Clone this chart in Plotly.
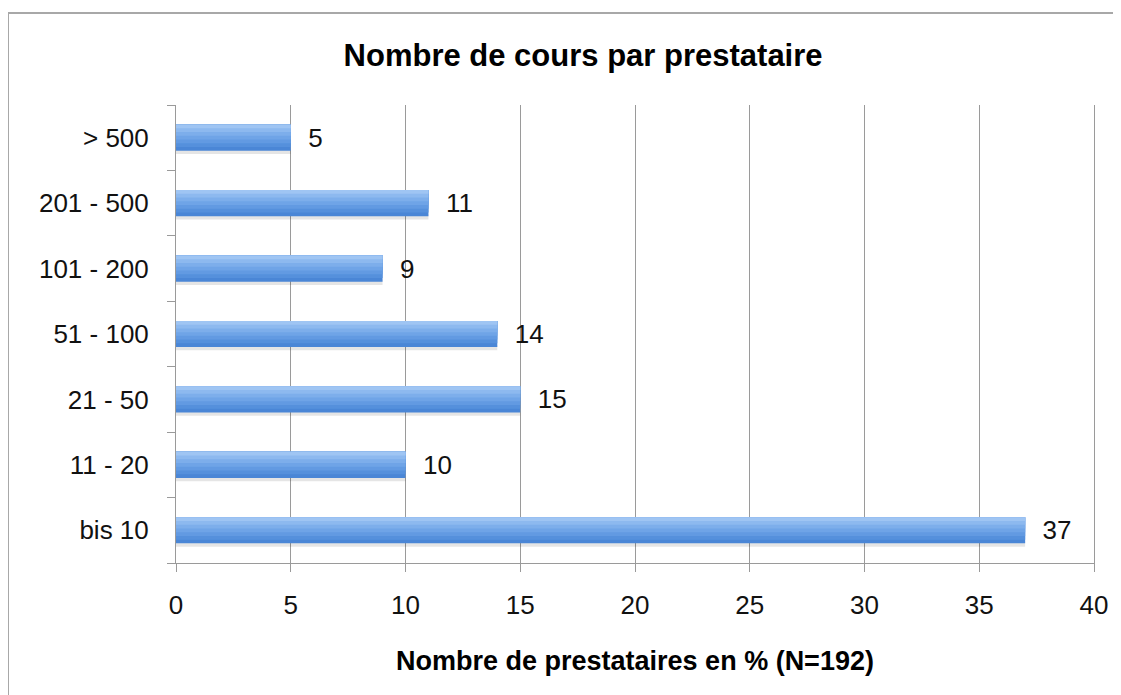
import plotly.graph_objects as go

# categories bottom to top (plotly category axis runs upward)
categories = ["bis 10", "11 - 20", "21 - 50", "51 - 100", "101 - 200", "201 - 500", "> 500"]
values = [37, 10, 15, 14, 9, 11, 5]
x_ticks = [0, 5, 10, 15, 20, 25, 30, 35, 40]

TITLE = "Nombre de cours par prestataire"
X_TITLE = "Nombre de prestataires en % (N=192)"
FONT = "Liberation Sans, Arial, sans-serif"

# vertical gradient, light on top to darker at the bottom
grad = ["#4a86d6", "#5590dc", "#629ae2", "#6fa4e7", "#7daeeb", "#8db9ef", "#9fc5f3"]
bar_w = 0.4

fig = go.Figure()

# soft shadow under the bars
fig.add_trace(go.Bar(
    x=values, y=categories, orientation="h",
    width=0.08, offset=-bar_w / 2 - 0.05,
    marker=dict(color="rgba(0,0,0,0.10)", line=dict(width=0)),
    showlegend=False, hoverinfo="skip",
))

# base bar carries the value labels
fig.add_trace(go.Bar(
    x=values, y=categories, orientation="h",
    width=bar_w, offset=-bar_w / 2,
    marker=dict(color=grad[0], line=dict(width=0)),
    texttemplate="  %{x}", textposition="outside", constraintext="none",
    textfont=dict(family=FONT, size=26, color="#111"),
    cliponaxis=False, showlegend=False, hoverinfo="skip",
))

n = len(grad)
step = bar_w / n
for i, col in enumerate(grad[1:], start=1):
    fig.add_trace(go.Bar(
        x=values, y=categories, orientation="h",
        width=bar_w - i * step, offset=-bar_w / 2 + i * step,
        marker=dict(color=col, line=dict(width=0)),
        showlegend=False, hoverinfo="skip",
    ))

# page body adds 8px on left/top, margins compensate
fig.update_layout(
    width=1121, height=695,
    margin=dict(l=168, r=35, t=97, b=140),
    paper_bgcolor="white", plot_bgcolor="white",
    barmode="overlay",
    font=dict(family=FONT, color="#111"),
    title=dict(text="<b>" + TITLE + "</b>", x=0.513, xanchor="center",
               y=0.932, yanchor="middle",
               font=dict(family=FONT, size=31, color="#000")),
    shapes=[dict(type="rect", xref="paper", yref="paper",
                 x0=-0.183, x1=1.2, y0=-0.5, y1=1.201,
                 line=dict(color="#a8a8a8", width=2), layer="below")],
    annotations=[dict(text="<b>" + X_TITLE + "</b>", xref="paper", yref="paper",
                      x=0.5, y=-0.214, xanchor="center", yanchor="middle",
                      showarrow=False,
                      font=dict(family=FONT, size=27, color="#000"))],
)

fig.update_xaxes(
    range=[0, 40], tickvals=x_ticks,
    showgrid=True, gridcolor="#9a9a9a", gridwidth=1,
    showline=True, linecolor="#9a9a9a", linewidth=1,
    ticks="outside", ticklen=8, tickcolor="#9a9a9a",
    tickfont=dict(family=FONT, size=26, color="#111"),
    ticklabelstandoff=11,
    zeroline=False,
)
fig.update_yaxes(
    type="category", categoryorder="array", categoryarray=categories,
    range=[-0.5, 6.5],
    showgrid=False,
    showline=True, mirror=True, linecolor="#9a9a9a", linewidth=1,
    ticks="outside", ticklen=8, tickcolor="#9a9a9a", tickson="boundaries",
    tickfont=dict(family=FONT, size=26, color="#111"),
    ticklabelstandoff=21,
)

fig.write_html("out.html")
